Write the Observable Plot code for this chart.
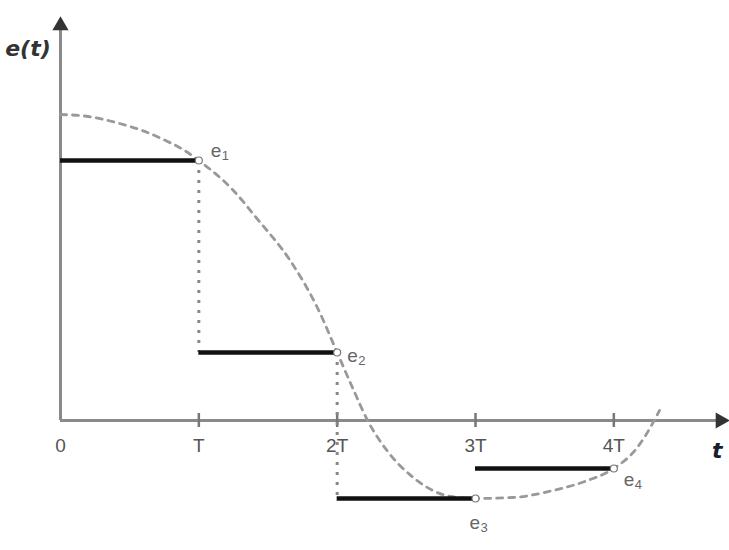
<!DOCTYPE html>
<html>
<head>
<meta charset="utf-8">
<script src="https://cdn.jsdelivr.net/npm/d3@7"></script>
<script src="https://cdn.jsdelivr.net/npm/@observablehq/plot@0.6"></script>
<style>
  html, body { margin: 0; padding: 0; background: #fff; }
  #chart svg { display: block; }
</style>
</head>
<body>
<div id="chart"></div>
<script>
// Continuous signal e(t), time in units of the sampling period T
const curveT = [0, 0.20, 0.40, 0.59, 0.76, 0.92, 1.00, 1.25, 1.42, 1.66, 1.86, 2.00, 2.12, 2.22, 2.36, 2.55, 2.82, 3.00, 3.27, 3.56, 3.81, 4.00, 4.17, 4.28, 4.33];
const curveE = [3.06, 3.04, 2.98, 2.90, 2.80, 2.68, 2.60, 2.30, 2.02, 1.60, 1.12, 0.68, 0.30, 0.00, -0.30, -0.57, -0.76, -0.78, -0.77, -0.70, -0.60, -0.48, -0.27, -0.03, 0.10];

// Samples e1..e4 taken at T, 2T, 3T, 4T
const sampleT = [1, 2, 3, 4];
const sampleE = [2.60, 0.68, -0.78, -0.48];
const sampleIndex = ["1", "2", "3", "4"];

// Tick positions and labels on the time axis
const tickT = [0, 1, 2, 3, 4];
const tickLabels = ["0", "T", "2T", "3T", "4T"];

const curve = curveT.map((t, i) => ({t, e: curveE[i]}));
const samples = sampleT.map((t, i) => ({t, e: sampleE[i], index: sampleIndex[i]}));
// Zero-order hold: each sample is held over the preceding period
const holds = samples.map(d => ({t1: d.t - 1, t2: d.t, e: d.e}));
// Vertical jumps between consecutive hold levels
const jumps = samples.slice(0, 2).map((d, i) => ({t: d.t, e1: d.e, e2: samples[i + 1].e}));
const ticks = tickT.map((t, i) => ({t, label: tickLabels[i]}));

// Pixel offsets of each sample label from its point
const labelDx = [12, 10, -6, 10];
const labelDy = [-10, 3, 24, 11];

const sans = "'Liberation Sans', Arial, sans-serif";
const titleFont = "'DejaVu Sans', Verdana, sans-serif";

// One "e" plus a smaller subscript index per sample
const sampleLabelMarks = samples.flatMap((d, i) => [
  Plot.text([d], {x: "t", y: "e", text: () => "e", textAnchor: "start",
    dx: labelDx[i], dy: labelDy[i], fontSize: 19, fill: "#666"}),
  Plot.text([d], {x: "t", y: "e", text: "index", textAnchor: "start",
    dx: labelDx[i] + 11, dy: labelDy[i] + 5, fontSize: 13, fill: "#666"})
]);

const chart = Plot.plot({
  width: 729,
  height: 550,
  marginLeft: 60,
  marginRight: 5,
  marginTop: 10,
  marginBottom: 0,
  x: {domain: [0, 4.8], axis: null},
  y: {domain: [-1.3, 4.1], axis: null},
  style: {fontFamily: sans, background: "#fff", overflow: "visible"},
  marks: [
    // axes
    Plot.ruleY([0], {x1: 0, x2: 4.76, stroke: "#8a8a8a", strokeWidth: 3}),
    Plot.ruleX([0], {y1: 0, y2: 3.9, stroke: "#8a8a8a", strokeWidth: 3}),
    Plot.dot([{t: 0, e: 3.95}], {x: "t", y: "e", symbol: "triangle", r: 6, fill: "#333", stroke: "none"}),
    Plot.dot([{t: 4.77, e: 0}], {x: "t", y: "e", symbol: "triangle", rotate: 90, r: 6, fill: "#333", stroke: "none"}),
    Plot.ruleX(ticks.filter(d => d.t > 0), {x: "t", y1: -0.07, y2: 0.07, stroke: "#777", strokeWidth: 2.5}),
    Plot.text(ticks, {x: "t", y: -0.25, text: "label", fontSize: 19, fill: "#555"}),
    // dashed continuous signal
    Plot.line(curve, {x: "t", y: "e", curve: "monotone-x", stroke: "#999", strokeWidth: 2.8, strokeDasharray: "6,6"}),
    // dotted jumps
    Plot.ruleX(jumps, {x: "t", y1: "e1", y2: "e2", stroke: "#888", strokeWidth: 3, strokeDasharray: "3,7"}),
    // held values
    Plot.ruleY(holds, {x1: "t1", x2: "t2", y: "e", stroke: "#111", strokeWidth: 4.5}),
    Plot.dot(samples, {x: "t", y: "e", r: 3.5, fill: "#fff", stroke: "#777", strokeWidth: 1.2}),
    ...sampleLabelMarks,
    // axis titles
    Plot.text([{t: -0.4, e: 3.72}], {x: "t", y: "e", text: () => "e(t)", textAnchor: "start", fontFamily: titleFont, fontSize: 22, fontWeight: "bold", fontStyle: "italic", fill: "#333"}),
    Plot.text([{t: 4.71, e: -0.3}], {x: "t", y: "e", text: () => "t", textAnchor: "start", fontFamily: titleFont, fontSize: 22, fontWeight: "bold", fontStyle: "italic", fill: "#1c1c2c"})
  ]
});

document.getElementById("chart").appendChild(chart);
</script>
</body>
</html>
